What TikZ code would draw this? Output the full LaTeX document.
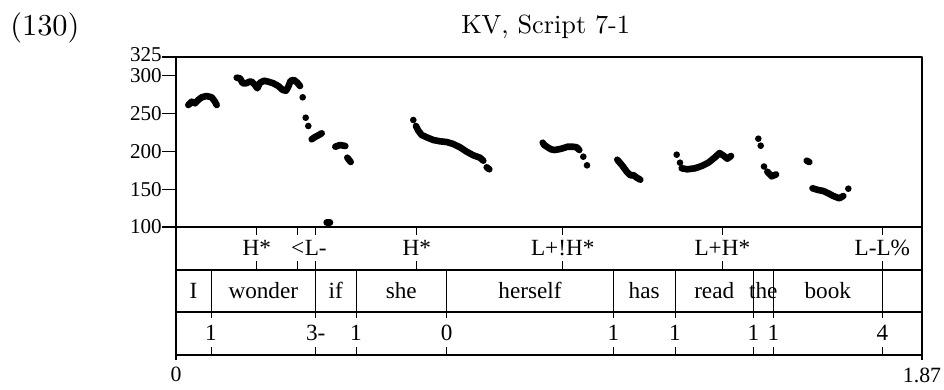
\documentclass[tikz,border=0pt]{standalone}
\usepackage{fontspec}
\newfontfamily\praatfont{Liberation Serif}
\newfontfamily\headfont{lmroman10-regular}[Extension=.otf]
\begin{document}
\begin{tikzpicture}[x=0.025cm,y=-0.025cm,join=round]
    \tikzstyle{frame} = [line width=1.3pt]
    \tikzstyle{rule} = [line width=0.8pt]
    \tikzstyle{tick} = [line width=0.7pt]
    \tikzstyle{tierlab} = [font=\praatfont\fontsize{16.5}{19}\selectfont,anchor=base,inner sep=0pt]
    \tikzstyle{hzlab} = [font=\praatfont\fontsize{15}{17}\selectfont,anchor=east,inner sep=0pt]
    \tikzstyle{timelab} = [font=\praatfont\fontsize{15.5}{18}\selectfont,anchor=base,inner sep=0pt]
    \tikzstyle{track} = [line width=4.7pt,line cap=round]

    \useasboundingbox (0,0) rectangle (944,389);

    % heading
    \node[anchor=base west,inner sep=0pt,font=\headfont\fontsize{21.6}{26}\selectfont]
        (exnum) at (10,35.5) {(130)};
    \node[anchor=base west,inner sep=0pt,font=\headfont\fontsize{18.7}{22}\selectfont]
        (heading) at (461,33.3) {KV, Script 7-1};

    % frame and tiers
    \draw[frame] (162,57) -- (922,57) -- (922,360);
    \draw[frame] (176,57) -- (176,360);
    \draw[frame] (176,355) -- (922,355);
    \draw[rule] (162,227) -- (922,227);
    \draw[rule] (176,270) -- (922,270);
    \draw[rule] (176,312) -- (922,312);

    % Hz axis
    \draw[tick] (162,75.9) -- (176,75.9) (162,113.7) -- (176,113.7)
                (162,151.4) -- (176,151.4) (162,189.2) -- (176,189.2);
    \path (162,55) node[hzlab] (hz325) {325}
          (162,75.9) node[hzlab] (hz300) {300}
          (162,113.7) node[hzlab] (hz250) {250}
          (162,151.4) node[hzlab] (hz200) {200}
          (162,189.2) node[hzlab] (hz150) {150}
          (162,227) node[hzlab] (hz100) {100};

    % time axis
    \path (176,381) node[timelab] (t0) {0}
          (922,382) node[timelab] (tend) {1.87};

    % tone tier
    \draw[tick] (256.7,227) -- (256.7,235) (256.7,261) -- (256.7,270)
                (297.7,227) -- (297.7,235) (297.7,261) -- (297.7,270)
                (315.7,227) -- (315.7,235) (315.7,261) -- (315.7,270)
                (416.7,227) -- (416.7,235) (416.7,261) -- (416.7,270)
                (562.7,227) -- (562.7,235) (562.7,261) -- (562.7,270)
                (722.3,227) -- (722.3,235) (722.3,261) -- (722.3,270)
                (882.3,227) -- (882.3,235) (882.3,261) -- (882.3,270);
    \path (256.7,255) node[tierlab] (hstar) {H*}
          (297.7,255) node[tierlab] (delay) {<}
          (315.7,255) node[tierlab] (lminus) {L-}
          (416.7,255) node[tierlab] (hstarb) {H*}
          (562.7,255) node[tierlab] (ldownh) {L+!H*}
          (722.3,255) node[tierlab] (lh) {L+H*}
          (882.3,255) node[tierlab] (llpct) {L-L\%};

    % word tier
    \draw[tick] (211,270) -- (211,312) (315.7,270) -- (315.7,312)
                (356,270) -- (356,312) (446.7,270) -- (446.7,312)
                (613.3,270) -- (613.3,312) (675,270) -- (675,312)
                (753.3,270) -- (753.3,312) (773.3,270) -- (773.3,312)
                (882.3,270) -- (882.3,312);
    \path (193.5,298.3) node[tierlab] (wI) {I}
          (263.3,298.3) node[tierlab] (wwonder) {wonder}
          (335.8,298.3) node[tierlab] (wif) {if}
          (401.3,298.3) node[tierlab] (wshe) {she}
          (530,298.3) node[tierlab] (wherself) {herself}
          (644.2,298.3) node[tierlab] (whas) {has}
          (714.2,298.3) node[tierlab] (wread) {read}
          (763.3,298.3) node[tierlab] (wthe) {the}
          (827.8,298.3) node[tierlab] (wbook) {book};

    % break tier
    \draw[tick] (211,312) -- (211,318) (211,347) -- (211,355)
                (315.7,312) -- (315.7,318) (315.7,347) -- (315.7,355)
                (356,312) -- (356,318) (356,347) -- (356,355)
                (446.7,312) -- (446.7,318) (446.7,347) -- (446.7,355)
                (613.3,312) -- (613.3,318) (613.3,347) -- (613.3,355)
                (675,312) -- (675,318) (675,347) -- (675,355)
                (753.3,312) -- (753.3,318) (753.3,347) -- (753.3,355)
                (773.3,312) -- (773.3,318) (773.3,347) -- (773.3,355)
                (882.3,312) -- (882.3,318) (882.3,347) -- (882.3,355);
    \path (211,340) node[tierlab] (bi1) {1}
          (315.7,340) node[tierlab] (bi2) {3-}
          (356,340) node[tierlab] (bi3) {1}
          (446.7,340) node[tierlab] (bi4) {0}
          (613.3,340) node[tierlab] (bi5) {1}
          (675,340) node[tierlab] (bi6) {1}
          (753.3,340) node[tierlab] (bi7) {1}
          (773.3,340) node[tierlab] (bi8) {1}
          (882.3,340) node[tierlab] (bi9) {4};

    % pitch track
    \draw[track] (188.3,105) -- (191.7,101.7) -- (195,103.3) -- (198.3,100)
                 -- (201.7,97.3) -- (206.7,96) -- (211.7,97.3) -- (215,101.7)
                 -- (216.7,105);
    \draw[track] (236.7,77.7) -- (240,78.3) -- (242.7,83.3) -- (246,83.3)
                 -- (249.3,81.7) -- (251.7,81.7) -- (255,85) -- (257.3,88.3)
                 -- (260,82.7) -- (264,80.7) -- (268.3,81.7) -- (273.3,83.3)
                 -- (278.3,86) -- (282.7,90) -- (286,90.7) -- (288.3,86.7)
                 -- (290.7,80.7) -- (294,80) -- (297.3,82.7) -- (300,86);
    \draw[track] (311.7,139.3) -- (315,137) -- (318.3,135.3) -- (321.7,133.3);
    \draw[track] (335.3,146.7) -- (340,145) -- (345.3,146);
    \draw[track] (347.3,157.7) -- (350.7,162);
    \draw[track] (326.7,222.7) -- (330,222.7);
    \fill (302.7,97.3) circle (2.35pt) (305.7,117.7) circle (2.35pt)
          (308.3,126) circle (2.35pt);

    \fill (413.3,120) circle (2.35pt);
    \draw[track] (416,126) -- (418.3,130.7) -- (421.7,135) -- (426.7,137.3)
                 -- (433.3,140) -- (440,141.3) -- (446.7,142) -- (453.3,144)
                 -- (460,147.3) -- (466.7,151.7) -- (473.3,155.3) -- (480,157.7)
                 -- (483.3,160.7);
    \draw[track] (486.7,167.3) -- (489.3,169.3);

    \draw[track] (542.7,142.7) -- (544.3,145) -- (547.7,147.3) -- (551,149.3)
                 -- (554.3,150) -- (558.7,149.3) -- (562.7,148.3) -- (567.7,146.7)
                 -- (572.7,146.7) -- (576.7,147.3) -- (579.3,150);
    \fill (583.3,156.7) circle (2.35pt) (587,165.3) circle (2.35pt);

    \draw[track] (617.3,159.7) -- (622.2,165.5) -- (627,172) -- (630.7,175.5)
                 -- (633.3,175) -- (636.5,177.5) -- (640.3,179.7);

    \fill (676.7,154.7) circle (2.35pt) (680,162.7) circle (2.35pt);
    \draw[track] (681.7,168.3) -- (687.3,169.3) -- (695,168.3) -- (701.7,166)
                 -- (708.3,162.7) -- (715,157.3) -- (719.5,153) -- (724,156)
                 -- (727.3,158.7) -- (731,156);

    \fill (758.3,138.7) circle (2.35pt) (760.7,145.7) circle (2.35pt)
          (764,166.5) circle (2.35pt);
    \draw[track] (767.3,171.7) -- (771.7,176.3) -- (776,174.5);

    \draw[track] (806.7,160.7) -- (809.3,162);
    \draw[track] (812.5,188.3) -- (818.3,190) -- (823.3,191) -- (828.3,193.3)
                 -- (833.3,196) -- (839.3,198.3) -- (843.3,196);
    \fill (848.3,188.7) circle (2.35pt);
\end{tikzpicture}
\end{document}
